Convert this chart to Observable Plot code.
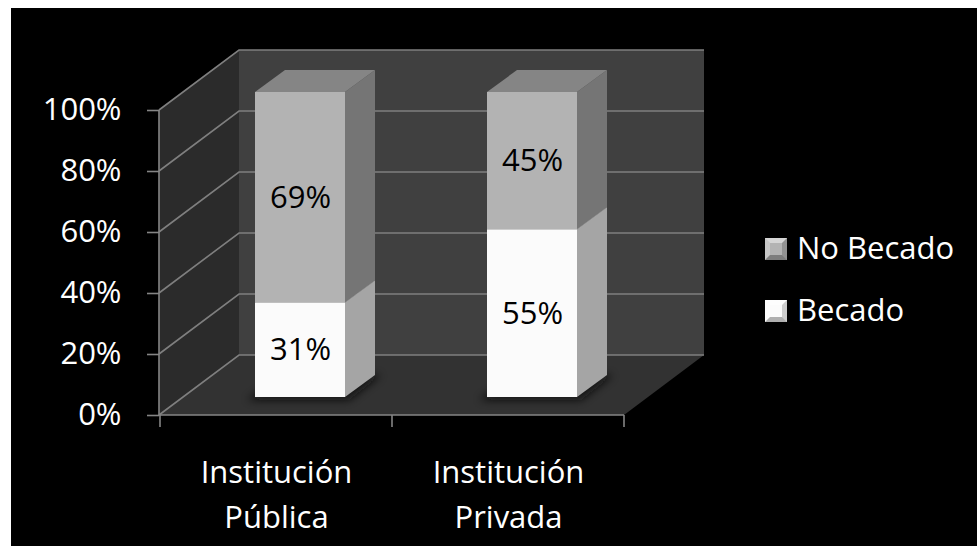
<!DOCTYPE html>
<html>
<head>
<meta charset="utf-8">
<script src="https://cdn.jsdelivr.net/npm/d3@7"></script>
<script src="https://cdn.jsdelivr.net/npm/@observablehq/plot@0.6"></script>
<style>
  html, body { margin: 0; padding: 0; background: #ffffff; }
  #chart { width: 977px; height: 546px; }
  #chart svg {
    background: linear-gradient(#000, #000) 11px 8px / 966px 538px no-repeat, #ffffff !important;
    font-family: "Open Sans", sans-serif;
    overflow: visible;
  }
</style>
</head>
<body>
<div id="chart"></div>
<script>
// ---- data ----
const categories = ["Institución Pública", "Institución Privada"];
const seriesNames = ["Becado", "No Becado"];
const becado = [0.31, 0.55];
const noBecado = [0.69, 0.45];
const yTicks = [0, 0.2, 0.4, 0.6, 0.8, 1];

// ---- styling ----
const frontColors = ["#fbfbfb", "#b3b3b3"];
const sideColors = ["#a5a5a5", "#757575"];
const topColors = ["#d4d4d4", "#858585"];
const WALL = {dx: 80, dy: -60};     // full depth of the 3D box
const BAR0 = {dx: 24, dy: -18};     // offset of bar front plane
const BARD = {dx: 30, dy: -22};     // bar depth
const INSET = 71;
const GRID = "#7f7f7f";
const AXIS = "#858585";

// table built from the arrays
const rows = [];
categories.forEach((c, i) => {
  const vals = [becado[i], noBecado[i]];
  let acc = 0;
  seriesNames.forEach((s, j) => {
    rows.push({category: c, series: s, value: vals[j], y1: acc, y2: acc + vals[j], k: j});
    acc += vals[j];
  });
});

function bandwidthOf(x) {
  return x.bandwidth ? x.bandwidth() : (x(categories[1]) - x(categories[0]));
}

// walls, floor and gridlines
function walls(index, scales, values, dims) {
  const {y} = scales;
  const x0 = dims.marginLeft, x1 = dims.width - dims.marginRight;
  const yb = y(0), yt = y(1);
  const g = d3.create("svg:g");
  g.append("path")
    .attr("d", `M${x0},${yb}L${x0},${yt}L${x0 + WALL.dx},${yt + WALL.dy}L${x0 + WALL.dx},${yb + WALL.dy}Z`)
    .attr("fill", "#2b2b2b");
  g.append("rect")
    .attr("x", x0 + WALL.dx).attr("y", yt + WALL.dy)
    .attr("width", x1 - x0).attr("height", yb - yt)
    .attr("fill", "#404040");
  g.append("path")
    .attr("d", `M${x0},${yb}L${x1},${yb}L${x1 + WALL.dx},${yb + WALL.dy}L${x0 + WALL.dx},${yb + WALL.dy}Z`)
    .attr("fill", "#323232");
  yTicks.forEach(t => {
    const yy = y(t);
    g.append("path")
      .attr("d", `M${x0},${yy}L${x0 + WALL.dx},${yy + WALL.dy}L${x1 + WALL.dx},${yy + WALL.dy}`)
      .attr("fill", "none").attr("stroke", GRID).attr("stroke-width", 1.6);
  });
  return g.node();
}

// shadows, side faces and top faces of the bars
function barFaces(index, scales) {
  const {x, y} = scales;
  const bw = bandwidthOf(x);
  const g = d3.create("svg:g");
  const defs = g.append("defs");
  defs.append("filter").attr("id", "shadowBlur")
    .attr("x", "-50%").attr("y", "-50%").attr("width", "200%").attr("height", "200%")
    .append("feGaussianBlur").attr("stdDeviation", 4);
  categories.forEach(c => {
    const xl = x(c) + INSET + BAR0.dx, xr = x(c) + bw - INSET + BAR0.dx;
    const yb = y(0) + BAR0.dy;
    g.append("path")
      .attr("d", `M${xl - 8},${yb + 3}L${xr + 4},${yb + 3}L${xr + BARD.dx + 6},${yb + BARD.dy}L${xl + BARD.dx},${yb + BARD.dy}Z`)
      .attr("fill", "#0c0c0c").attr("opacity", 0.8).attr("filter", "url(#shadowBlur)");
  });
  rows.forEach(r => {
    const xl = x(r.category) + INSET + BAR0.dx, xr = x(r.category) + bw - INSET + BAR0.dx;
    const ya = y(r.y1) + BAR0.dy, yb = y(r.y2) + BAR0.dy;
    g.append("path")
      .attr("d", `M${xr},${ya}L${xr},${yb}L${xr + BARD.dx},${yb + BARD.dy}L${xr + BARD.dx},${ya + BARD.dy}Z`)
      .attr("fill", sideColors[r.k]);
    g.append("path")
      .attr("d", `M${xl},${yb}L${xr},${yb}L${xr + BARD.dx},${yb + BARD.dy}L${xl + BARD.dx},${yb + BARD.dy}Z`)
      .attr("fill", topColors[r.k]);
  });
  return g.node();
}

// front axis lines and category boundary ticks
function frontAxes(index, scales, values, dims) {
  const {x, y} = scales;
  const bw = bandwidthOf(x);
  const x0 = dims.marginLeft, x1 = dims.width - dims.marginRight;
  const g = d3.create("svg:g").attr("stroke", AXIS).attr("stroke-width", 1.6).attr("fill", "none");
  g.append("path").attr("d", `M${x0},${y(1)}L${x0},${y(0)}L${x1},${y(0)}`);
  const edges = categories.map(c => x(c)).concat([x(categories[categories.length - 1]) + bw]);
  edges.forEach(e => g.append("path").attr("d", `M${e},${y(0)}V${y(0) + 12}`));
  return g.node();
}

// legend (series on top listed first)
function legend(index, scales, values, dims) {
  const g = d3.create("svg:g");
  const lx = dims.width - dims.marginRight + 141;
  const items = seriesNames.map((s, j) => ({s, j})).reverse();
  items.forEach((it, i) => {
    const top = dims.marginTop + 128 + i * 62;
    const s = 22, b = 5;
    const sw = g.append("g").attr("transform", `translate(${lx},${top})`);
    sw.append("rect").attr("width", s).attr("height", s).attr("fill", frontColors[it.j]);
    sw.append("path").attr("d", `M0,0L${s},0L${s - b},${b}L${b},${b}Z`).attr("fill", "#fff").attr("opacity", 0.45);
    sw.append("path").attr("d", `M0,0L${b},${b}L${b},${s - b}L0,${s}Z`).attr("fill", "#fff").attr("opacity", 0.25);
    sw.append("path").attr("d", `M0,${s}L${b},${s - b}L${s - b},${s - b}L${s},${s}Z`).attr("fill", "#000").attr("opacity", 0.3);
    sw.append("path").attr("d", `M${s},0L${s},${s}L${s - b},${s - b}L${s - b},${b}Z`).attr("fill", "#000").attr("opacity", 0.18);
    g.append("text")
      .attr("x", lx + 32).attr("y", top + 21)
      .attr("text-anchor", "start")
      .attr("fill", "#ffffff").attr("font-size", 31)
      .attr("font-family", "'Open Sans', sans-serif")
      .text(it.s);
  });
  return g.node();
}

const pct = d3.format(".0%");

const chart = Plot.plot({
  width: 977,
  height: 546,
  marginTop: 110,
  marginBottom: 131,
  marginLeft: 159,
  marginRight: 353,
  style: "font-family: 'Open Sans', sans-serif; color: white;",
  x: {domain: categories, padding: 0},
  y: {domain: [0, 1]},
  color: {domain: seriesNames, range: frontColors},
  marks: [
    walls,
    barFaces,
    Plot.barY(rows, {
      x: "category", y1: "y1", y2: "y2", fill: "series",
      insetLeft: INSET, insetRight: INSET, dx: BAR0.dx, dy: BAR0.dy
    }),
    Plot.text(rows, {
      x: "category", y: d => (d.y1 + d.y2) / 2, text: d => pct(d.value),
      dx: BAR0.dx, dy: BAR0.dy, fontSize: 31, fill: "#000000"
    }),
    frontAxes,
    Plot.axisY({
      ticks: yTicks, tickFormat: pct, tickSize: 12, tickPadding: 26,
      fontSize: 31, fill: "#ffffff", stroke: AXIS, strokeWidth: 1.6, label: null
    }),
    Plot.axisX({
      tickSize: 0, tickPadding: 36, fontSize: 31, fill: "#ffffff", lineHeight: 1.45,
      tickFormat: d => d.replace(" ", "\n"), label: null
    }),
    legend
  ]
});

document.getElementById("chart").appendChild(chart);
</script>
</body>
</html>
